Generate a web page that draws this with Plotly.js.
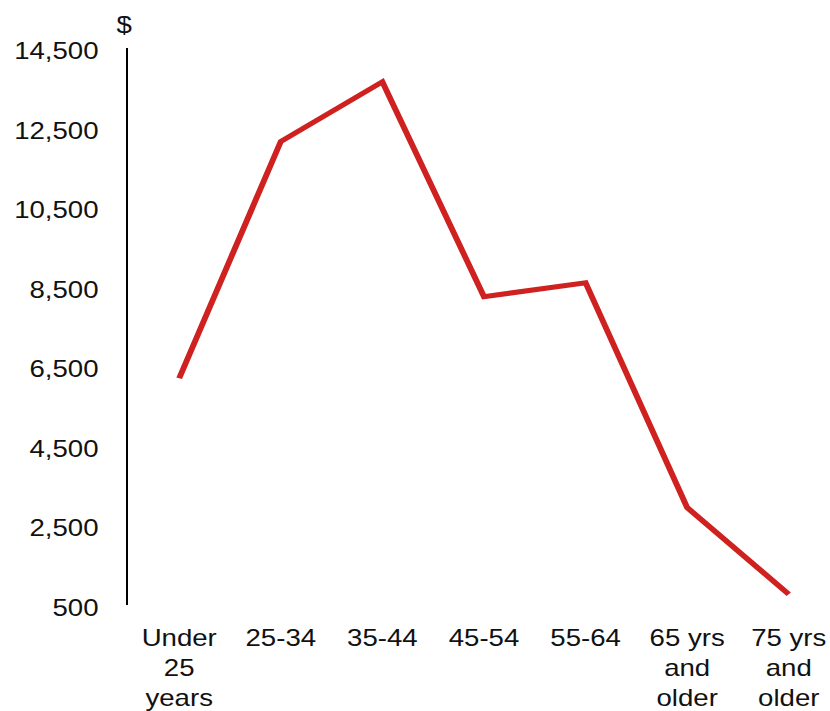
<!DOCTYPE html>
<html>
<head>
<meta charset="utf-8">
<script src="https://cdn.plot.ly/plotly-3.0.1.min.js"></script>
<style>
  html, body { margin: 0; padding: 0; background: #fff; overflow: hidden; }
  #wrap { width: 830px; height: 711px; overflow: hidden; }
  /* the chart is laid out narrower and widened to fill the frame */
  #chart { width: 692px; height: 711px; transform: scaleX(1.2); transform-origin: 0 0; }
</style>
</head>
<body>
<div id="wrap"><div id="chart"></div></div>
<script>
// Age groups of the householder
const ageGroups = [
  "Under<br>25<br>years",
  "25-34",
  "35-44",
  "45-54",
  "55-64",
  "65 yrs<br>and<br>older",
  "75 yrs<br>and<br>older"
];

// Average amount, dollars
const amounts = [6200, 12150, 13650, 8250, 8600, 2950, 770];

// Value axis ticks
const yTicks = [500, 2500, 4500, 6500, 8500, 10500, 12500, 14500];

const FONT = '"Liberation Sans", Arial, Helvetica, sans-serif';

const trace = {
  type: 'scatter',
  mode: 'lines',
  x: ageGroups.map((_, i) => i),
  y: amounts,
  line: { color: '#cf2120', width: 5, shape: 'linear' },
  hoverinfo: 'skip'
};

const layout = {
  width: 692,
  height: 711,
  margin: { l: 107, r: 0, t: 48, b: 106 },
  paper_bgcolor: '#ffffff',
  plot_bgcolor: '#ffffff',
  showlegend: false,
  font: { family: FONT, size: 23, color: '#111111' },
  xaxis: {
    range: [-0.5, 6.41],
    tickmode: 'array',
    tickvals: ageGroups.map((_, i) => i),
    ticktext: ageGroups,
    showgrid: false,
    zeroline: false,
    showline: false,
    ticks: '',
    ticklabelstandoff: 17,
    tickfont: { family: FONT, size: 23, color: '#111111' }
  },
  yaxis: {
    range: [500, 14500],
    tickmode: 'array',
    tickvals: yTicks,
    tickformat: ',d',
    showgrid: false,
    zeroline: false,
    showline: true,
    linecolor: '#000000',
    linewidth: 2.3,
    ticks: '',
    ticklabelstandoff: 18,
    ticklabelshift: 3,
    tickfont: { family: FONT, size: 23, color: '#111111' }
  },
  annotations: [{
    text: '$',
    xref: 'paper', yref: 'paper',
    x: -0.006, y: 1.0,
    xanchor: 'center', yanchor: 'bottom',
    yshift: 8,
    showarrow: false,
    font: { family: FONT, size: 23, color: '#111111' }
  }]
};

Plotly.newPlot('chart', [trace], layout, { displayModeBar: false, staticPlot: true });
</script>
</body>
</html>
